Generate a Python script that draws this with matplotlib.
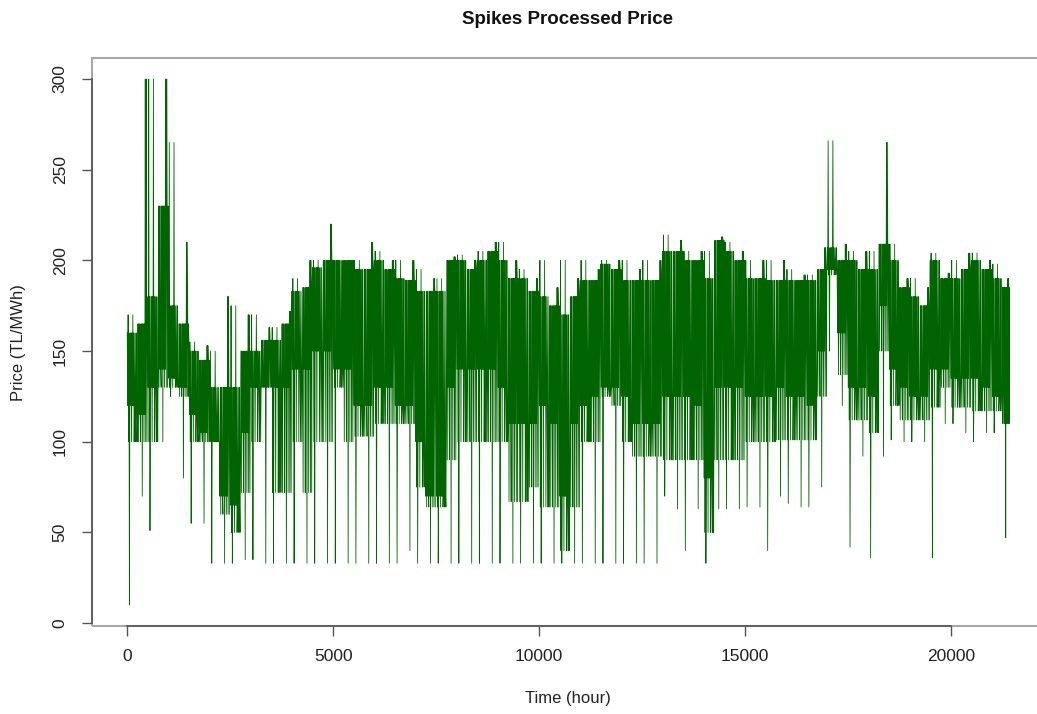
import numpy as np
import matplotlib.pyplot as plt
from matplotlib.patches import Rectangle

plt.rcParams['font.family'] = ['Liberation Sans', 'DejaVu Sans']

# hourly series in 250-hour blocks:
# lowest spike, lower edge of the lighter band, lower edge of the dark core,
# upper edge of the band, highest spike
block_hours = 250
n_hours = 21430
spike_lo = [10, 70, 51, 100, 125, 80, 55, 55, 33, 33, 33, 35, 35, 33, 33, 33,
            33, 33, 33, 33, 33, 33, 33, 33, 33, 33, 33, 40, 33, 33, 33, 33,
            33, 33, 33, 33, 33, 33, 33, 33, 33, 33, 33, 33, 33, 33, 33, 33,
            33, 33, 33, 33, 70, 63, 40, 63, 33, 63, 63, 63, 64, 64, 40, 70,
            66, 64, 64, 75, 150, 120, 42, 92, 36, 92, 101, 100, 100, 100, 36, 110,
            110, 105, 100, 105, 105, 47]
band_lo = [100, 100, 100, 130, 130, 125, 100, 100, 100, 60, 50, 72, 100, 130, 72, 72,
           100, 72, 100, 100, 130, 100, 103, 103, 110, 110, 110, 110, 75, 64, 64, 90,
           100, 100, 100, 100, 100, 67, 67, 75, 64, 64, 40, 64, 100, 100, 125, 120,
           100, 92, 92, 92, 90, 90, 90, 90, 50, 90, 90, 90, 100, 100, 100, 101,
           101, 101, 101, 125, 192, 137, 112, 112, 105, 150, 120, 112, 112, 112, 119, 130,
           119, 119, 117, 117, 117, 110]
core_lo = [120, 115, 130, 140, 135, 130, 115, 105, 100, 70, 65, 105, 130, 130, 130, 130,
           140, 140, 150, 150, 140, 140, 120, 120, 130, 130, 120, 120, 100, 70, 70, 130,
           140, 140, 140, 140, 130, 110, 110, 110, 120, 110, 70, 110, 120, 125, 130, 130,
           125, 110, 110, 110, 125, 125, 125, 120, 80, 130, 130, 130, 125, 125, 125, 130,
           125, 125, 120, 150, 195, 160, 130, 130, 125, 175, 140, 130, 125, 125, 140, 140,
           135, 135, 135, 130, 125, 125]
band_hi = [160, 165, 180, 230, 175, 165, 150, 145, 130, 130, 130, 150, 150, 156, 156, 165,
           183, 185, 196, 200, 200, 200, 195, 195, 200, 195, 190, 189, 183, 183, 183, 200,
           200, 195, 200, 205, 200, 190, 190, 183, 180, 175, 170, 180, 189, 189, 198, 195,
           189, 189, 189, 189, 205, 205, 200, 200, 190, 211, 205, 200, 190, 190, 189, 189,
           189, 189, 189, 195, 207, 200, 200, 195, 195, 209, 200, 185, 180, 175, 200, 190,
           190, 195, 200, 195, 190, 185]
spike_hi = [170, 300, 300, 300, 265, 210, 155, 153, 150, 180, 175, 170, 170, 163, 163, 172,
            190, 200, 200, 220, 200, 200, 200, 210, 205, 200, 200, 200, 195, 190, 190, 202,
            203, 200, 205, 210, 210, 200, 195, 190, 200, 185, 200, 190, 200, 195, 200, 200,
            200, 195, 200, 200, 214, 211, 205, 205, 205, 213, 210, 205, 200, 200, 200, 200,
            195, 192, 192, 207, 266, 209, 205, 205, 205, 265, 209, 190, 190, 185, 204, 193,
            200, 204, 204, 200, 198, 190]

# build the trace: inside each block the price swings mostly through the dark
# core, now and then down to the lighter band and out to the spikes
hours = []
price = []
for i in range(len(band_hi)):
    start = i * block_hours
    end = min(start + block_hours, n_hours)
    hi, core, lo = band_hi[i], core_lo[i], band_lo[i]
    shi, slo = spike_hi[i], spike_lo[i]
    if i % 2 == 0:
        seq = [hi, core, shi, lo, hi, slo, core, hi, core, hi, lo, hi,
               core, shi, core, hi, lo, core, hi, core, lo, hi, core, lo]
    else:
        seq = [core, hi, lo, hi, core, hi, core, lo, hi, core, hi, slo,
               hi, core, hi, lo, hi, core, shi, lo, shi, hi, lo, hi]
    hours.extend(np.linspace(start, end, len(seq), endpoint=False))
    price.extend(seq)

fig = plt.figure(figsize=(10.37, 7.14), dpi=100)
ax = fig.add_axes([92 / 1037, (714 - 626) / 714, (1045 - 92) / 1037, (626 - 58) / 714])

ax.plot(hours, price, color='#006400', lw=0.6)

ax.set_xlim(-856, 22287)
ax.set_ylim(-1.6, 311.6)
ax.set_xticks([0, 5000, 10000, 15000, 20000])
ax.set_yticks([0, 50, 100, 150, 200, 250, 300])

for s in ax.spines.values():
    s.set_visible(False)
ax.spines['left'].set_visible(True)
ax.spines['bottom'].set_visible(True)
ax.spines['left'].set_bounds(0, 300)
ax.spines['bottom'].set_bounds(0, 20000)
ax.spines['left'].set_color('#555555')
ax.spines['bottom'].set_color('#555555')
ax.spines['left'].set_linewidth(1.2)
ax.spines['bottom'].set_linewidth(1.2)
ax.add_patch(Rectangle((0, 0), 1, 1, transform=ax.transAxes, fill=False,
                       edgecolor='#a8a8a8', lw=1.5, clip_on=False, zorder=0))

ax.tick_params(axis='both', length=7.5, width=1, color='#555555',
               labelsize=12.5, labelcolor='#222222')
ax.tick_params(axis='x', pad=9)
ax.tick_params(axis='y', pad=10)
for lab in ax.get_yticklabels():
    lab.set_rotation(90)
    lab.set_va('center')

fig.text(568 / 1037, 1 - 19 / 714, 'Spikes Processed Price', ha='center', va='center',
         fontsize=13.5, fontweight='bold', color='#111111')
fig.text(568 / 1037, 1 - 698 / 714, 'Time (hour)', ha='center', va='center',
         fontsize=12, color='#222222')
fig.text(19 / 1037, 1 - 343 / 714, 'Price (TL/MWh)', ha='center', va='center',
         rotation=90, fontsize=12, color='#222222')

fig.savefig('out.png', dpi=100)
